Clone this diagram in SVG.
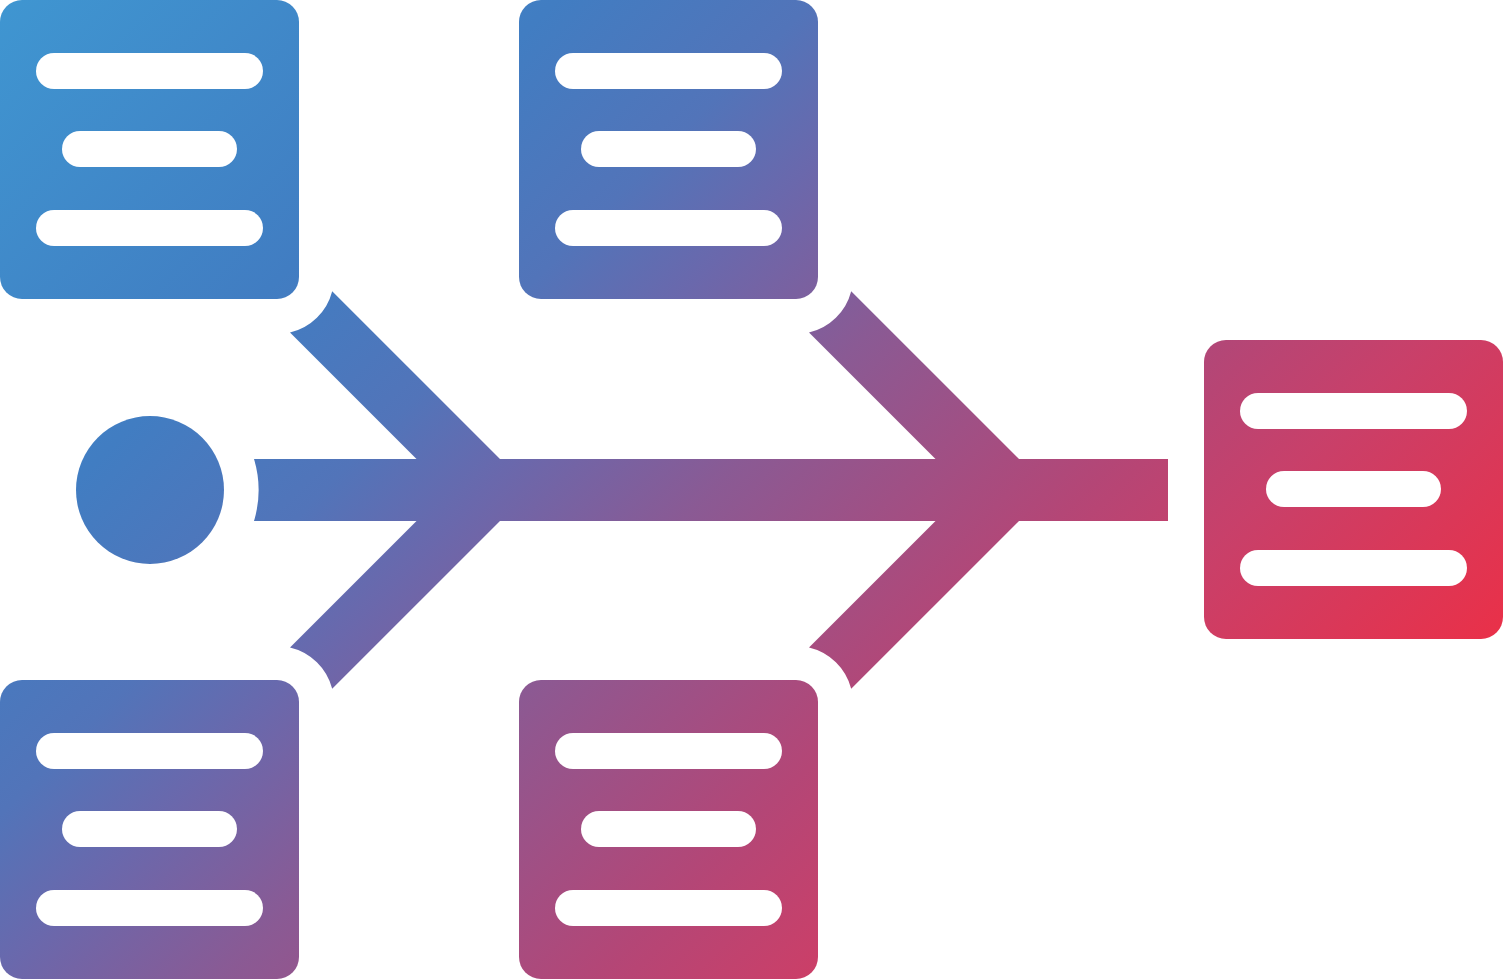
<svg xmlns="http://www.w3.org/2000/svg" width="1504" height="980" viewBox="0 0 1504 980">
  <defs>
    <linearGradient id="g" gradientUnits="userSpaceOnUse" x1="0" y1="0" x2="1072" y2="1072">
      <stop offset="0" stop-color="#3f96d1"/>
      <stop offset="0.26" stop-color="#417dc2"/>
      <stop offset="0.38" stop-color="#5274b9"/>
      <stop offset="0.455" stop-color="#6a68ac"/>
      <stop offset="0.56" stop-color="#8a5a94"/>
      <stop offset="0.735" stop-color="#b44676"/>
      <stop offset="0.82" stop-color="#c8406a"/>
      <stop offset="1" stop-color="#ea3048"/>
    </linearGradient>
  </defs>
  <style>
    .box { fill: url(#g); }
    .ln { fill: #ffffff; }
    .bone { fill: url(#g); }
  </style>
  <rect width="1504" height="980" fill="#ffffff"/>

  <g id="connectors">
    <path class="bone" d="M 254 459 A 108 108 0 0 1 254 521 L 1168 521 L 1168 459 Z"/>
    <path class="bone" d="M 290 332.5 A 57 57 0 0 0 332.2 291.2 L 531 490 L 447.5 490 Z"/>
    <path class="bone" d="M 290 647.5 A 57 57 0 0 1 332.2 688.8 L 531 490 L 447.5 490 Z"/>
    <path class="bone" d="M 809 332.5 A 57 57 0 0 0 851.2 291.2 L 1050 490 L 966.5 490 Z"/>
    <path class="bone" d="M 809 647.5 A 57 57 0 0 1 851.2 688.8 L 1050 490 L 966.5 490 Z"/>
  </g>

  <g id="start">
    <circle class="box" cx="150" cy="490" r="74"/>
  </g>

  <g id="cause-top-left">
    <rect class="box" x="0" y="0" width="299" height="299" rx="22"/>
    <rect class="ln" x="36" y="53" width="227" height="36" rx="18"/>
    <rect class="ln" x="62" y="131" width="175" height="36" rx="18"/>
    <rect class="ln" x="36" y="210" width="227" height="36" rx="18"/>
  </g>

  <g id="cause-top-middle">
    <rect class="box" x="519" y="0" width="299" height="299" rx="22"/>
    <rect class="ln" x="555" y="53" width="227" height="36" rx="18"/>
    <rect class="ln" x="581" y="131" width="175" height="36" rx="18"/>
    <rect class="ln" x="555" y="210" width="227" height="36" rx="18"/>
  </g>

  <g id="cause-bottom-left">
    <rect class="box" x="0" y="680" width="299" height="299" rx="22"/>
    <rect class="ln" x="36" y="733" width="227" height="36" rx="18"/>
    <rect class="ln" x="62" y="811" width="175" height="36" rx="18"/>
    <rect class="ln" x="36" y="890" width="227" height="36" rx="18"/>
  </g>

  <g id="cause-bottom-middle">
    <rect class="box" x="519" y="680" width="299" height="299" rx="22"/>
    <rect class="ln" x="555" y="733" width="227" height="36" rx="18"/>
    <rect class="ln" x="581" y="811" width="175" height="36" rx="18"/>
    <rect class="ln" x="555" y="890" width="227" height="36" rx="18"/>
  </g>

  <g id="effect">
    <rect class="box" x="1204" y="340" width="299" height="299" rx="22"/>
    <rect class="ln" x="1240" y="393" width="227" height="36" rx="18"/>
    <rect class="ln" x="1266" y="471" width="175" height="36" rx="18"/>
    <rect class="ln" x="1240" y="550" width="227" height="36" rx="18"/>
  </g>
</svg>
